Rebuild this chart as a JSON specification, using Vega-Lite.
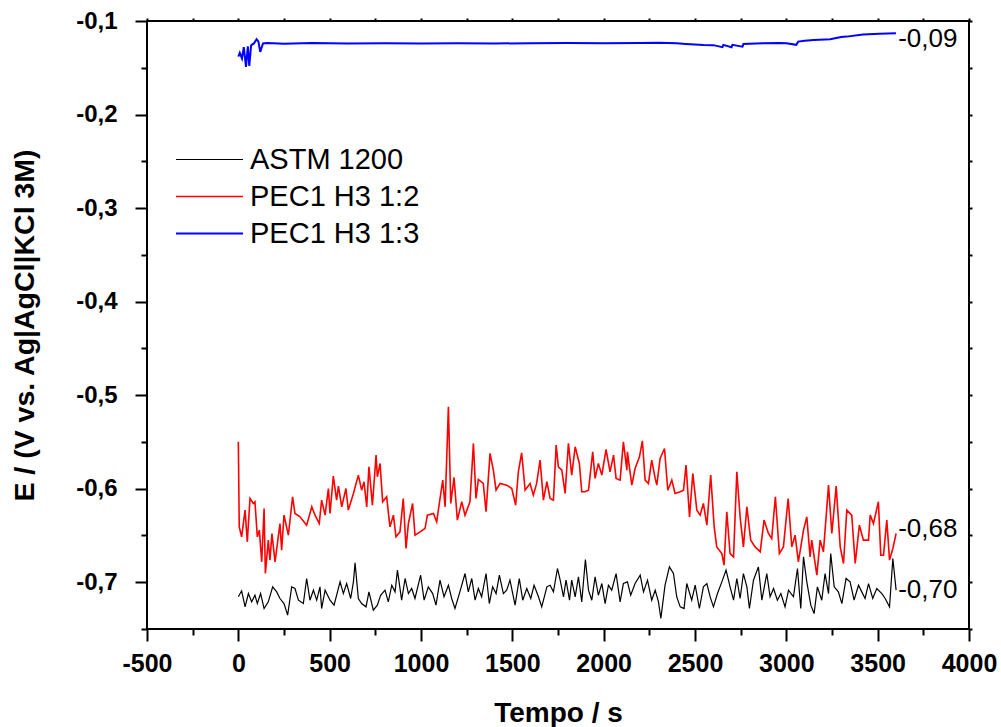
{
  "$schema": "https://vega.github.io/schema/vega-lite/v6.json",
  "width": 822,
  "height": 608,
  "autosize": {"type": "none"},
  "padding": {"left": 147, "top": 21, "right": 32, "bottom": 98},
  "background": "white",
  "config": {
    "font": "Liberation Sans",
    "view": {"stroke": "black", "strokeWidth": 2},
    "axis": {"grid": false, "domain": false, "tickColor": "black", "tickWidth": 2, "labelColor": "black", "titleColor": "black"}
  },
  "datasets": {
    "series": [
      {"t":0,"v":-0.7156,"s":"ASTM 1200"},{"t":18,"v":-0.7092,"s":"ASTM 1200"},{"t":37,"v":-0.7263,"s":"ASTM 1200"},{"t":55,"v":-0.7121,"s":"ASTM 1200"},{"t":73,"v":-0.721,"s":"ASTM 1200"},{"t":91,"v":-0.7139,"s":"ASTM 1200"},{"t":104,"v":-0.7228,"s":"ASTM 1200"},{"t":122,"v":-0.7121,"s":"ASTM 1200"},{"t":141,"v":-0.7281,"s":"ASTM 1200"},{"t":164,"v":-0.721,"s":"ASTM 1200"},{"t":188,"v":-0.7049,"s":"ASTM 1200"},{"t":210,"v":-0.7103,"s":"ASTM 1200"},{"t":228,"v":-0.7174,"s":"ASTM 1200"},{"t":250,"v":-0.7228,"s":"ASTM 1200"},{"t":270,"v":-0.7352,"s":"ASTM 1200"},{"t":292,"v":-0.7049,"s":"ASTM 1200"},{"t":310,"v":-0.7067,"s":"ASTM 1200"},{"t":329,"v":-0.7192,"s":"ASTM 1200"},{"t":356,"v":-0.7228,"s":"ASTM 1200"},{"t":374,"v":-0.696,"s":"ASTM 1200"},{"t":392,"v":-0.7192,"s":"ASTM 1200"},{"t":411,"v":-0.7085,"s":"ASTM 1200"},{"t":429,"v":-0.7192,"s":"ASTM 1200"},{"t":447,"v":-0.7049,"s":"ASTM 1200"},{"t":456,"v":-0.7281,"s":"ASTM 1200"},{"t":475,"v":-0.7085,"s":"ASTM 1200"},{"t":502,"v":-0.7192,"s":"ASTM 1200"},{"t":524,"v":-0.7245,"s":"ASTM 1200"},{"t":557,"v":-0.6996,"s":"ASTM 1200"},{"t":575,"v":-0.7121,"s":"ASTM 1200"},{"t":593,"v":-0.7014,"s":"ASTM 1200"},{"t":615,"v":-0.7174,"s":"ASTM 1200"},{"t":630,"v":-0.6996,"s":"ASTM 1200"},{"t":639,"v":-0.6793,"s":"ASTM 1200"},{"t":657,"v":-0.7174,"s":"ASTM 1200"},{"t":675,"v":-0.7228,"s":"ASTM 1200"},{"t":699,"v":-0.7263,"s":"ASTM 1200"},{"t":715,"v":-0.7103,"s":"ASTM 1200"},{"t":739,"v":-0.7299,"s":"ASTM 1200"},{"t":761,"v":-0.7245,"s":"ASTM 1200"},{"t":779,"v":-0.7139,"s":"ASTM 1200"},{"t":803,"v":-0.7085,"s":"ASTM 1200"},{"t":821,"v":-0.721,"s":"ASTM 1200"},{"t":840,"v":-0.7032,"s":"ASTM 1200"},{"t":858,"v":-0.7103,"s":"ASTM 1200"},{"t":871,"v":-0.6871,"s":"ASTM 1200"},{"t":894,"v":-0.7192,"s":"ASTM 1200"},{"t":913,"v":-0.696,"s":"ASTM 1200"},{"t":931,"v":-0.7121,"s":"ASTM 1200"},{"t":949,"v":-0.7067,"s":"ASTM 1200"},{"t":967,"v":-0.7174,"s":"ASTM 1200"},{"t":998,"v":-0.6925,"s":"ASTM 1200"},{"t":1017,"v":-0.7192,"s":"ASTM 1200"},{"t":1040,"v":-0.7049,"s":"ASTM 1200"},{"t":1064,"v":-0.7121,"s":"ASTM 1200"},{"t":1082,"v":-0.7245,"s":"ASTM 1200"},{"t":1104,"v":-0.6978,"s":"ASTM 1200"},{"t":1126,"v":-0.7156,"s":"ASTM 1200"},{"t":1150,"v":-0.7032,"s":"ASTM 1200"},{"t":1168,"v":-0.7174,"s":"ASTM 1200"},{"t":1186,"v":-0.7281,"s":"ASTM 1200"},{"t":1210,"v":-0.7121,"s":"ASTM 1200"},{"t":1241,"v":-0.6907,"s":"ASTM 1200"},{"t":1259,"v":-0.7103,"s":"ASTM 1200"},{"t":1278,"v":-0.696,"s":"ASTM 1200"},{"t":1296,"v":-0.7192,"s":"ASTM 1200"},{"t":1314,"v":-0.7067,"s":"ASTM 1200"},{"t":1332,"v":-0.7156,"s":"ASTM 1200"},{"t":1356,"v":-0.6907,"s":"ASTM 1200"},{"t":1374,"v":-0.7228,"s":"ASTM 1200"},{"t":1392,"v":-0.7049,"s":"ASTM 1200"},{"t":1411,"v":-0.7121,"s":"ASTM 1200"},{"t":1429,"v":-0.6925,"s":"ASTM 1200"},{"t":1451,"v":-0.7121,"s":"ASTM 1200"},{"t":1469,"v":-0.7085,"s":"ASTM 1200"},{"t":1487,"v":-0.6978,"s":"ASTM 1200"},{"t":1515,"v":-0.7245,"s":"ASTM 1200"},{"t":1538,"v":-0.696,"s":"ASTM 1200"},{"t":1557,"v":-0.7192,"s":"ASTM 1200"},{"t":1579,"v":-0.7067,"s":"ASTM 1200"},{"t":1601,"v":-0.7174,"s":"ASTM 1200"},{"t":1619,"v":-0.7032,"s":"ASTM 1200"},{"t":1643,"v":-0.7156,"s":"ASTM 1200"},{"t":1661,"v":-0.7263,"s":"ASTM 1200"},
      {"t":1689,"v":-0.7049,"s":"ASTM 1200"},{"t":1707,"v":-0.7032,"s":"ASTM 1200"},{"t":1725,"v":-0.7103,"s":"ASTM 1200"},{"t":1747,"v":-0.6853,"s":"ASTM 1200"},{"t":1762,"v":-0.6978,"s":"ASTM 1200"},{"t":1780,"v":-0.7156,"s":"ASTM 1200"},{"t":1794,"v":-0.6978,"s":"ASTM 1200"},{"t":1813,"v":-0.7192,"s":"ASTM 1200"},{"t":1825,"v":-0.6978,"s":"ASTM 1200"},{"t":1844,"v":-0.7156,"s":"ASTM 1200"},{"t":1862,"v":-0.6943,"s":"ASTM 1200"},{"t":1880,"v":-0.721,"s":"ASTM 1200"},{"t":1900,"v":-0.6757,"s":"ASTM 1200"},{"t":1917,"v":-0.7085,"s":"ASTM 1200"},{"t":1935,"v":-0.7192,"s":"ASTM 1200"},{"t":1953,"v":-0.6943,"s":"ASTM 1200"},{"t":1971,"v":-0.7139,"s":"ASTM 1200"},{"t":1990,"v":-0.7014,"s":"ASTM 1200"},{"t":2008,"v":-0.7228,"s":"ASTM 1200"},{"t":2026,"v":-0.7032,"s":"ASTM 1200"},{"t":2044,"v":-0.7085,"s":"ASTM 1200"},{"t":2068,"v":-0.6907,"s":"ASTM 1200"},{"t":2090,"v":-0.721,"s":"ASTM 1200"},{"t":2108,"v":-0.7014,"s":"ASTM 1200"},{"t":2130,"v":-0.6996,"s":"ASTM 1200"},{"t":2148,"v":-0.7139,"s":"ASTM 1200"},{"t":2172,"v":-0.7014,"s":"ASTM 1200"},{"t":2200,"v":-0.6925,"s":"ASTM 1200"},{"t":2218,"v":-0.7103,"s":"ASTM 1200"},{"t":2240,"v":-0.6978,"s":"ASTM 1200"},{"t":2263,"v":-0.7192,"s":"ASTM 1200"},{"t":2282,"v":-0.7085,"s":"ASTM 1200"},{"t":2300,"v":-0.721,"s":"ASTM 1200"},{"t":2313,"v":-0.7388,"s":"ASTM 1200"},{"t":2336,"v":-0.7032,"s":"ASTM 1200"},{"t":2360,"v":-0.6836,"s":"ASTM 1200"},{"t":2382,"v":-0.6907,"s":"ASTM 1200"},{"t":2400,"v":-0.7156,"s":"ASTM 1200"},{"t":2419,"v":-0.7263,"s":"ASTM 1200"},{"t":2440,"v":-0.7281,"s":"ASTM 1200"},{"t":2455,"v":-0.7014,"s":"ASTM 1200"},{"t":2482,"v":-0.7192,"s":"ASTM 1200"},{"t":2501,"v":-0.7032,"s":"ASTM 1200"},{"t":2524,"v":-0.7281,"s":"ASTM 1200"},{"t":2546,"v":-0.7049,"s":"ASTM 1200"},{"t":2565,"v":-0.7014,"s":"ASTM 1200"},{"t":2583,"v":-0.7156,"s":"ASTM 1200"},{"t":2601,"v":-0.7263,"s":"ASTM 1200"},{"t":2623,"v":-0.7121,"s":"ASTM 1200"},{"t":2647,"v":-0.6996,"s":"ASTM 1200"},{"t":2670,"v":-0.6871,"s":"ASTM 1200"},{"t":2692,"v":-0.7049,"s":"ASTM 1200"},{"t":2711,"v":-0.7192,"s":"ASTM 1200"},{"t":2729,"v":-0.696,"s":"ASTM 1200"},{"t":2747,"v":-0.7174,"s":"ASTM 1200"},{"t":2765,"v":-0.6907,"s":"ASTM 1200"},{"t":2784,"v":-0.7049,"s":"ASTM 1200"},{"t":2798,"v":-0.7281,"s":"ASTM 1200"},{"t":2820,"v":-0.6978,"s":"ASTM 1200"},{"t":2847,"v":-0.6836,"s":"ASTM 1200"},{"t":2866,"v":-0.7192,"s":"ASTM 1200"},{"t":2893,"v":-0.6907,"s":"ASTM 1200"},{"t":2911,"v":-0.7156,"s":"ASTM 1200"},{"t":2930,"v":-0.7067,"s":"ASTM 1200"},{"t":2951,"v":-0.7192,"s":"ASTM 1200"},{"t":2970,"v":-0.7121,"s":"ASTM 1200"},{"t":2993,"v":-0.7263,"s":"ASTM 1200"},{"t":3012,"v":-0.7085,"s":"ASTM 1200"},{"t":3039,"v":-0.7156,"s":"ASTM 1200"},{"t":3061,"v":-0.6853,"s":"ASTM 1200"},{"t":3079,"v":-0.7281,"s":"ASTM 1200"},{"t":3094,"v":-0.6729,"s":"ASTM 1200"},{"t":3112,"v":-0.6996,"s":"ASTM 1200"},{"t":3134,"v":-0.7245,"s":"ASTM 1200"},{"t":3152,"v":-0.7335,"s":"ASTM 1200"},{"t":3170,"v":-0.7049,"s":"ASTM 1200"},{"t":3194,"v":-0.7192,"s":"ASTM 1200"},{"t":3212,"v":-0.6907,"s":"ASTM 1200"},{"t":3231,"v":-0.7121,"s":"ASTM 1200"},{"t":3243,"v":-0.6693,"s":"ASTM 1200"},{"t":3262,"v":-0.7049,"s":"ASTM 1200"},{"t":3285,"v":-0.7103,"s":"ASTM 1200"},{"t":3304,"v":-0.7228,"s":"ASTM 1200"},{"t":3327,"v":-0.696,"s":"ASTM 1200"},{"t":3349,"v":-0.6996,"s":"ASTM 1200"},{"t":3371,"v":-0.7192,"s":"ASTM 1200"},{"t":3395,"v":-0.7032,"s":"ASTM 1200"},{"t":3413,"v":-0.7103,"s":"ASTM 1200"},{"t":3431,"v":-0.7174,"s":"ASTM 1200"},{"t":3450,"v":-0.7014,"s":"ASTM 1200"},{"t":3473,"v":-0.7174,"s":"ASTM 1200"},{"t":3495,"v":-0.7067,"s":"ASTM 1200"},{"t":3523,"v":-0.7121,"s":"ASTM 1200"},{"t":3541,"v":-0.7174,"s":"ASTM 1200"},{"t":3565,"v":-0.7263,"s":"ASTM 1200"},{"t":3583,"v":-0.6746,"s":"ASTM 1200"},{"t":3601,"v":-0.7085,"s":"ASTM 1200"},
      {"t":0,"v":-0.5499,"s":"PEC1 H3 1:2"},{"t":5,"v":-0.6408,"s":"PEC1 H3 1:2"},{"t":18,"v":-0.6515,"s":"PEC1 H3 1:2"},{"t":37,"v":-0.6229,"s":"PEC1 H3 1:2"},{"t":49,"v":-0.6568,"s":"PEC1 H3 1:2"},{"t":64,"v":-0.6105,"s":"PEC1 H3 1:2"},{"t":82,"v":-0.6158,"s":"PEC1 H3 1:2"},{"t":91,"v":-0.614,"s":"PEC1 H3 1:2"},{"t":104,"v":-0.6515,"s":"PEC1 H3 1:2"},{"t":115,"v":-0.6443,"s":"PEC1 H3 1:2"},{"t":128,"v":-0.6782,"s":"PEC1 H3 1:2"},{"t":141,"v":-0.6212,"s":"PEC1 H3 1:2"},{"t":148,"v":-0.6907,"s":"PEC1 H3 1:2"},{"t":164,"v":-0.655,"s":"PEC1 H3 1:2"},{"t":173,"v":-0.6764,"s":"PEC1 H3 1:2"},{"t":184,"v":-0.6479,"s":"PEC1 H3 1:2"},{"t":201,"v":-0.6782,"s":"PEC1 H3 1:2"},{"t":228,"v":-0.6372,"s":"PEC1 H3 1:2"},{"t":237,"v":-0.6657,"s":"PEC1 H3 1:2"},{"t":250,"v":-0.6283,"s":"PEC1 H3 1:2"},{"t":274,"v":-0.6497,"s":"PEC1 H3 1:2"},{"t":297,"v":-0.6087,"s":"PEC1 H3 1:2"},{"t":310,"v":-0.6265,"s":"PEC1 H3 1:2"},{"t":338,"v":-0.6301,"s":"PEC1 H3 1:2"},{"t":374,"v":-0.639,"s":"PEC1 H3 1:2"},{"t":402,"v":-0.6194,"s":"PEC1 H3 1:2"},{"t":420,"v":-0.6283,"s":"PEC1 H3 1:2"},{"t":443,"v":-0.6372,"s":"PEC1 H3 1:2"},{"t":456,"v":-0.6123,"s":"PEC1 H3 1:2"},{"t":475,"v":-0.6283,"s":"PEC1 H3 1:2"},{"t":493,"v":-0.5998,"s":"PEC1 H3 1:2"},{"t":502,"v":-0.6265,"s":"PEC1 H3 1:2"},{"t":520,"v":-0.5866,"s":"PEC1 H3 1:2"},{"t":538,"v":-0.6123,"s":"PEC1 H3 1:2"},{"t":548,"v":-0.5973,"s":"PEC1 H3 1:2"},{"t":566,"v":-0.6194,"s":"PEC1 H3 1:2"},{"t":589,"v":-0.5998,"s":"PEC1 H3 1:2"},{"t":602,"v":-0.6229,"s":"PEC1 H3 1:2"},{"t":630,"v":-0.6051,"s":"PEC1 H3 1:2"},{"t":657,"v":-0.5855,"s":"PEC1 H3 1:2"},{"t":675,"v":-0.6016,"s":"PEC1 H3 1:2"},{"t":688,"v":-0.5926,"s":"PEC1 H3 1:2"},{"t":703,"v":-0.6194,"s":"PEC1 H3 1:2"},{"t":715,"v":-0.5766,"s":"PEC1 H3 1:2"},{"t":734,"v":-0.6176,"s":"PEC1 H3 1:2"},{"t":754,"v":-0.5641,"s":"PEC1 H3 1:2"},{"t":761,"v":-0.5873,"s":"PEC1 H3 1:2"},{"t":776,"v":-0.573,"s":"PEC1 H3 1:2"},{"t":790,"v":-0.614,"s":"PEC1 H3 1:2"},{"t":812,"v":-0.6087,"s":"PEC1 H3 1:2"},{"t":830,"v":-0.6408,"s":"PEC1 H3 1:2"},{"t":849,"v":-0.6283,"s":"PEC1 H3 1:2"},{"t":863,"v":-0.6515,"s":"PEC1 H3 1:2"},{"t":885,"v":-0.6461,"s":"PEC1 H3 1:2"},{"t":903,"v":-0.6105,"s":"PEC1 H3 1:2"},{"t":918,"v":-0.6639,"s":"PEC1 H3 1:2"},{"t":931,"v":-0.6372,"s":"PEC1 H3 1:2"},{"t":954,"v":-0.6158,"s":"PEC1 H3 1:2"},{"t":967,"v":-0.6497,"s":"PEC1 H3 1:2"},{"t":995,"v":-0.6461,"s":"PEC1 H3 1:2"},{"t":1022,"v":-0.6426,"s":"PEC1 H3 1:2"},{"t":1035,"v":-0.6283,"s":"PEC1 H3 1:2"},{"t":1068,"v":-0.6265,"s":"PEC1 H3 1:2"},{"t":1086,"v":-0.6354,"s":"PEC1 H3 1:2"},{"t":1095,"v":-0.6229,"s":"PEC1 H3 1:2"},{"t":1119,"v":-0.5909,"s":"PEC1 H3 1:2"},{"t":1132,"v":-0.6194,"s":"PEC1 H3 1:2"},{"t":1150,"v":-0.5124,"s":"PEC1 H3 1:2"},{"t":1163,"v":-0.6158,"s":"PEC1 H3 1:2"},{"t":1181,"v":-0.588,"s":"PEC1 H3 1:2"},{"t":1199,"v":-0.6336,"s":"PEC1 H3 1:2"},{"t":1223,"v":-0.614,"s":"PEC1 H3 1:2"},{"t":1241,"v":-0.6283,"s":"PEC1 H3 1:2"},{"t":1268,"v":-0.614,"s":"PEC1 H3 1:2"},{"t":1287,"v":-0.5516,"s":"PEC1 H3 1:2"},{"t":1301,"v":-0.6105,"s":"PEC1 H3 1:2"},{"t":1314,"v":-0.5901,"s":"PEC1 H3 1:2"},{"t":1341,"v":-0.5944,"s":"PEC1 H3 1:2"},{"t":1356,"v":-0.6247,"s":"PEC1 H3 1:2"},{"t":1378,"v":-0.5623,"s":"PEC1 H3 1:2"},{"t":1396,"v":-0.5802,"s":"PEC1 H3 1:2"},{"t":1411,"v":-0.6016,"s":"PEC1 H3 1:2"},{"t":1433,"v":-0.5944,"s":"PEC1 H3 1:2"},{"t":1469,"v":-0.5962,"s":"PEC1 H3 1:2"},{"t":1497,"v":-0.5998,"s":"PEC1 H3 1:2"},{"t":1518,"v":-0.6176,"s":"PEC1 H3 1:2"},{"t":1533,"v":-0.582,"s":"PEC1 H3 1:2"},{"t":1551,"v":-0.5616,"s":"PEC1 H3 1:2"},{"t":1570,"v":-0.6016,"s":"PEC1 H3 1:2"},{"t":1597,"v":-0.5944,"s":"PEC1 H3 1:2"},{"t":1615,"v":-0.6069,"s":"PEC1 H3 1:2"},{"t":1633,"v":-0.5944,"s":"PEC1 H3 1:2"},{"t":1652,"v":-0.5695,"s":"PEC1 H3 1:2"},
      {"t":1670,"v":-0.6123,"s":"PEC1 H3 1:2"},{"t":1689,"v":-0.5926,"s":"PEC1 H3 1:2"},{"t":1707,"v":-0.6105,"s":"PEC1 H3 1:2"},{"t":1725,"v":-0.6123,"s":"PEC1 H3 1:2"},{"t":1740,"v":-0.5534,"s":"PEC1 H3 1:2"},{"t":1752,"v":-0.5766,"s":"PEC1 H3 1:2"},{"t":1771,"v":-0.5802,"s":"PEC1 H3 1:2"},{"t":1789,"v":-0.6051,"s":"PEC1 H3 1:2"},{"t":1807,"v":-0.5516,"s":"PEC1 H3 1:2"},{"t":1825,"v":-0.5855,"s":"PEC1 H3 1:2"},{"t":1844,"v":-0.5552,"s":"PEC1 H3 1:2"},{"t":1867,"v":-0.573,"s":"PEC1 H3 1:2"},{"t":1880,"v":-0.6033,"s":"PEC1 H3 1:2"},{"t":1898,"v":-0.6033,"s":"PEC1 H3 1:2"},{"t":1917,"v":-0.6016,"s":"PEC1 H3 1:2"},{"t":1940,"v":-0.5606,"s":"PEC1 H3 1:2"},{"t":1953,"v":-0.589,"s":"PEC1 H3 1:2"},{"t":1971,"v":-0.573,"s":"PEC1 H3 1:2"},{"t":1990,"v":-0.5855,"s":"PEC1 H3 1:2"},{"t":2013,"v":-0.5581,"s":"PEC1 H3 1:2"},{"t":2035,"v":-0.582,"s":"PEC1 H3 1:2"},{"t":2054,"v":-0.5641,"s":"PEC1 H3 1:2"},{"t":2068,"v":-0.589,"s":"PEC1 H3 1:2"},{"t":2090,"v":-0.5909,"s":"PEC1 H3 1:2"},{"t":2108,"v":-0.5499,"s":"PEC1 H3 1:2"},{"t":2127,"v":-0.5802,"s":"PEC1 H3 1:2"},{"t":2130,"v":-0.5606,"s":"PEC1 H3 1:2"},{"t":2154,"v":-0.5962,"s":"PEC1 H3 1:2"},{"t":2172,"v":-0.5784,"s":"PEC1 H3 1:2"},{"t":2196,"v":-0.5659,"s":"PEC1 H3 1:2"},{"t":2212,"v":-0.5488,"s":"PEC1 H3 1:2"},{"t":2227,"v":-0.5909,"s":"PEC1 H3 1:2"},{"t":2245,"v":-0.5944,"s":"PEC1 H3 1:2"},{"t":2263,"v":-0.5695,"s":"PEC1 H3 1:2"},{"t":2282,"v":-0.589,"s":"PEC1 H3 1:2"},{"t":2291,"v":-0.5962,"s":"PEC1 H3 1:2"},{"t":2309,"v":-0.5677,"s":"PEC1 H3 1:2"},{"t":2333,"v":-0.557,"s":"PEC1 H3 1:2"},{"t":2351,"v":-0.6016,"s":"PEC1 H3 1:2"},{"t":2373,"v":-0.5909,"s":"PEC1 H3 1:2"},{"t":2391,"v":-0.6051,"s":"PEC1 H3 1:2"},{"t":2419,"v":-0.6033,"s":"PEC1 H3 1:2"},{"t":2437,"v":-0.6016,"s":"PEC1 H3 1:2"},{"t":2451,"v":-0.5748,"s":"PEC1 H3 1:2"},{"t":2470,"v":-0.6301,"s":"PEC1 H3 1:2"},{"t":2488,"v":-0.5837,"s":"PEC1 H3 1:2"},{"t":2510,"v":-0.6229,"s":"PEC1 H3 1:2"},{"t":2528,"v":-0.6283,"s":"PEC1 H3 1:2"},{"t":2546,"v":-0.6158,"s":"PEC1 H3 1:2"},{"t":2565,"v":-0.639,"s":"PEC1 H3 1:2"},{"t":2586,"v":-0.5855,"s":"PEC1 H3 1:2"},{"t":2605,"v":-0.6408,"s":"PEC1 H3 1:2"},{"t":2619,"v":-0.6622,"s":"PEC1 H3 1:2"},{"t":2647,"v":-0.6693,"s":"PEC1 H3 1:2"},{"t":2659,"v":-0.6818,"s":"PEC1 H3 1:2"},{"t":2674,"v":-0.6247,"s":"PEC1 H3 1:2"},{"t":2692,"v":-0.6693,"s":"PEC1 H3 1:2"},{"t":2711,"v":-0.6729,"s":"PEC1 H3 1:2"},{"t":2729,"v":-0.582,"s":"PEC1 H3 1:2"},{"t":2747,"v":-0.6301,"s":"PEC1 H3 1:2"},{"t":2765,"v":-0.6622,"s":"PEC1 H3 1:2"},{"t":2784,"v":-0.6194,"s":"PEC1 H3 1:2"},{"t":2805,"v":-0.655,"s":"PEC1 H3 1:2"},{"t":2829,"v":-0.6622,"s":"PEC1 H3 1:2"},{"t":2857,"v":-0.6675,"s":"PEC1 H3 1:2"},{"t":2878,"v":-0.6336,"s":"PEC1 H3 1:2"},{"t":2902,"v":-0.6479,"s":"PEC1 H3 1:2"},{"t":2920,"v":-0.6533,"s":"PEC1 H3 1:2"},{"t":2940,"v":-0.6087,"s":"PEC1 H3 1:2"},{"t":2962,"v":-0.6693,"s":"PEC1 H3 1:2"},{"t":2984,"v":-0.6622,"s":"PEC1 H3 1:2"},{"t":3010,"v":-0.6105,"s":"PEC1 H3 1:2"},{"t":3030,"v":-0.6622,"s":"PEC1 H3 1:2"},{"t":3048,"v":-0.6497,"s":"PEC1 H3 1:2"},{"t":3066,"v":-0.6782,"s":"PEC1 H3 1:2"},{"t":3094,"v":-0.6443,"s":"PEC1 H3 1:2"},{"t":3112,"v":-0.6301,"s":"PEC1 H3 1:2"},{"t":3130,"v":-0.6729,"s":"PEC1 H3 1:2"},{"t":3139,"v":-0.655,"s":"PEC1 H3 1:2"},{"t":3167,"v":-0.6925,"s":"PEC1 H3 1:2"},{"t":3185,"v":-0.655,"s":"PEC1 H3 1:2"},{"t":3203,"v":-0.6675,"s":"PEC1 H3 1:2"},{"t":3231,"v":-0.5962,"s":"PEC1 H3 1:2"},{"t":3249,"v":-0.6479,"s":"PEC1 H3 1:2"},{"t":3273,"v":-0.5973,"s":"PEC1 H3 1:2"},{"t":3295,"v":-0.6622,"s":"PEC1 H3 1:2"},{"t":3313,"v":-0.68,"s":"PEC1 H3 1:2"},{"t":3331,"v":-0.6229,"s":"PEC1 H3 1:2"},{"t":3358,"v":-0.6283,"s":"PEC1 H3 1:2"},{"t":3377,"v":-0.68,"s":"PEC1 H3 1:2"},{"t":3400,"v":-0.639,"s":"PEC1 H3 1:2"},{"t":3422,"v":-0.655,"s":"PEC1 H3 1:2"},{"t":3450,"v":-0.655,"s":"PEC1 H3 1:2"},{"t":3459,"v":-0.6283,"s":"PEC1 H3 1:2"},{"t":3477,"v":-0.6372,"s":"PEC1 H3 1:2"},{"t":3504,"v":-0.614,"s":"PEC1 H3 1:2"},{"t":3517,"v":-0.6711,"s":"PEC1 H3 1:2"},{"t":3532,"v":-0.6711,"s":"PEC1 H3 1:2"},{"t":3550,"v":-0.6336,"s":"PEC1 H3 1:2"},{"t":3565,"v":-0.6764,"s":"PEC1 H3 1:2"},{"t":3583,"v":-0.6639,"s":"PEC1 H3 1:2"},{"t":3601,"v":-0.6479,"s":"PEC1 H3 1:2"},
      {"t":0,"v":-0.138,"s":"PEC1 H3 1:3"},{"t":8,"v":-0.134,"s":"PEC1 H3 1:3"},{"t":20,"v":-0.14,"s":"PEC1 H3 1:3"},{"t":30,"v":-0.128,"s":"PEC1 H3 1:3"},{"t":42,"v":-0.149,"s":"PEC1 H3 1:3"},{"t":52,"v":-0.127,"s":"PEC1 H3 1:3"},{"t":60,"v":-0.148,"s":"PEC1 H3 1:3"},{"t":70,"v":-0.126,"s":"PEC1 H3 1:3"},{"t":85,"v":-0.124,"s":"PEC1 H3 1:3"},{"t":100,"v":-0.1195,"s":"PEC1 H3 1:3"},{"t":110,"v":-0.122,"s":"PEC1 H3 1:3"},{"t":120,"v":-0.133,"s":"PEC1 H3 1:3"},{"t":135,"v":-0.124,"s":"PEC1 H3 1:3"},{"t":160,"v":-0.1235,"s":"PEC1 H3 1:3"},{"t":250,"v":-0.1242,"s":"PEC1 H3 1:3"},{"t":400,"v":-0.1236,"s":"PEC1 H3 1:3"},{"t":600,"v":-0.124,"s":"PEC1 H3 1:3"},{"t":800,"v":-0.1238,"s":"PEC1 H3 1:3"},{"t":1000,"v":-0.1241,"s":"PEC1 H3 1:3"},{"t":1200,"v":-0.1237,"s":"PEC1 H3 1:3"},{"t":1400,"v":-0.124,"s":"PEC1 H3 1:3"},{"t":1600,"v":-0.1238,"s":"PEC1 H3 1:3"},{"t":1800,"v":-0.1236,"s":"PEC1 H3 1:3"},{"t":2000,"v":-0.1238,"s":"PEC1 H3 1:3"},{"t":2200,"v":-0.1236,"s":"PEC1 H3 1:3"},{"t":2300,"v":-0.1232,"s":"PEC1 H3 1:3"},{"t":2400,"v":-0.1238,"s":"PEC1 H3 1:3"},{"t":2450,"v":-0.1245,"s":"PEC1 H3 1:3"},{"t":2547,"v":-0.1256,"s":"PEC1 H3 1:3"},{"t":2600,"v":-0.1258,"s":"PEC1 H3 1:3"},{"t":2650,"v":-0.128,"s":"PEC1 H3 1:3"},{"t":2655,"v":-0.1255,"s":"PEC1 H3 1:3"},{"t":2700,"v":-0.128,"s":"PEC1 H3 1:3"},{"t":2705,"v":-0.1255,"s":"PEC1 H3 1:3"},{"t":2760,"v":-0.1275,"s":"PEC1 H3 1:3"},{"t":2765,"v":-0.1245,"s":"PEC1 H3 1:3"},{"t":2870,"v":-0.1238,"s":"PEC1 H3 1:3"},{"t":2960,"v":-0.1235,"s":"PEC1 H3 1:3"},{"t":3000,"v":-0.1238,"s":"PEC1 H3 1:3"},{"t":3055,"v":-0.1255,"s":"PEC1 H3 1:3"},{"t":3065,"v":-0.122,"s":"PEC1 H3 1:3"},{"t":3100,"v":-0.121,"s":"PEC1 H3 1:3"},{"t":3150,"v":-0.1203,"s":"PEC1 H3 1:3"},{"t":3240,"v":-0.1195,"s":"PEC1 H3 1:3"},{"t":3300,"v":-0.117,"s":"PEC1 H3 1:3"},{"t":3330,"v":-0.1167,"s":"PEC1 H3 1:3"},{"t":3420,"v":-0.1145,"s":"PEC1 H3 1:3"},{"t":3510,"v":-0.1135,"s":"PEC1 H3 1:3"},{"t":3600,"v":-0.1132,"s":"PEC1 H3 1:3"}
    ],
    "ends": [
      {"t":3612,"v":-0.119,"label":"-0,09"},
      {"t":3612,"v":-0.643,"label":"-0,68"},
      {"t":3612,"v":-0.708,"label":"-0,70"}
    ]
  },
  "layer": [
    {
      "data": {"name": "series"},
      "mark": {"type": "line", "clip": true},
      "encoding": {
        "x": {"field": "t", "type": "quantitative", "scale": {"domain": [-500, 4000], "nice": false, "zero": false},
          "axis": {"orient": "bottom", "title": "Tempo / s", "values": [-500,-250,0,250,500,750,1000,1250,1500,1750,2000,2250,2500,2750,3000,3250,3500,3750,4000],
            "tickSize": {"condition": {"test": "datum.value % 500 === 0", "value": 12}, "value": 6},
            "labelExpr": "datum.value % 500 === 0 ? replace(format(datum.value, 'd'), '\u2212', '-') : ''",
            "labelOverlap": false, "labelFlush": false, "labelPadding": 10, "labelFontSize": 25, "labelFontWeight": "bold",
            "titleFontSize": 28, "titleFontWeight": "bold", "titlePadding": 23}},
        "y": {"field": "v", "type": "quantitative", "scale": {"domain": [-0.75, -0.1], "nice": false, "zero": false},
          "axis": {"orient": "left", "title": "E / (V vs. Ag|AgCl|KCl 3M)", "values": [-0.75,-0.7,-0.65,-0.6,-0.55,-0.5,-0.45,-0.4,-0.35,-0.3,-0.25,-0.2,-0.15,-0.1],
            "tickSize": {"condition": {"test": "abs(round(datum.value*100)) % 10 === 0", "value": 12}, "value": 6},
            "labelExpr": "abs(round(datum.value*100)) % 10 === 0 ? replace(replace(format(datum.value, '.1f'), '.', ','), '\u2212', '-') : ''",
            "labelOverlap": false, "labelFlush": false, "labelPadding": 18, "labelFontSize": 24, "labelFontWeight": "bold",
            "titleFontSize": 28.5, "titleFontWeight": "bold", "titlePadding": 36}},
        "color": {"field": "s", "type": "nominal", "scale": {"domain": ["ASTM 1200", "PEC1 H3 1:2", "PEC1 H3 1:3"], "range": ["#000000", "#ff0000", "#0000ff"]},
          "legend": {"title": null, "orient": "none", "legendX": 48, "legendY": 124, "symbolType": "M-3,0H3", "symbolSize": 499, "symbolStrokeWidth": 1.2,
            "labelFontSize": 29, "labelFont": "Liberation Sans", "labelColor": "black", "labelOffset": 26, "labelLimit": 400, "rowPadding": 7}},
        "strokeWidth": {"field": "s", "type": "nominal", "scale": {"domain": ["ASTM 1200", "PEC1 H3 1:2", "PEC1 H3 1:3"], "range": [1.2, 2, 4.5]}, "legend": null}
      }
    },
    {
      "data": {"name": "ends"},
      "mark": {"type": "text", "align": "left", "baseline": "middle", "fontSize": 26, "font": "Liberation Sans", "color": "black"},
      "encoding": {
        "x": {"field": "t", "type": "quantitative", "axis": {"orient": "top", "title": null, "labels": false, "domain": false, "tickSize": 3, "values": [-500,-250,0,250,500,750,1000,1250,1500,1750,2000,2250,2500,2750,3000,3250,3500,3750,4000]}},
        "y": {"field": "v", "type": "quantitative", "axis": {"orient": "right", "title": null, "labels": false, "domain": false, "tickSize": 3, "values": [-0.75,-0.7,-0.65,-0.6,-0.55,-0.5,-0.45,-0.4,-0.35,-0.3,-0.25,-0.2,-0.15,-0.1]}},
        "text": {"field": "label"}
      }
    }
  ],
  "resolve": {"axis": {"x": "independent", "y": "independent"}}
}
